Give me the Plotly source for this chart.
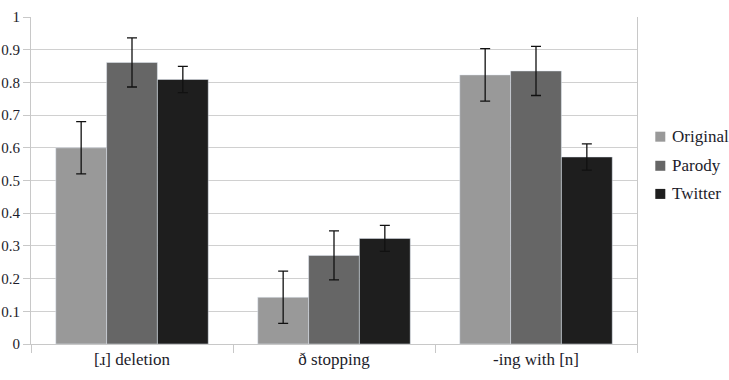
import plotly.graph_objects as go

categories = ["[ɹ] deletion", "ð stopping", "-ing with [n]"]
series_names = ["Original", "Parody", "Twitter"]
original = [0.60, 0.143, 0.823]
parody = [0.861, 0.271, 0.835]
twitter = [0.809, 0.323, 0.572]
original_err = [0.08, 0.08, 0.08]
parody_err = [0.075, 0.075, 0.075]
twitter_err = [0.04, 0.04, 0.04]
colors = ["#999999", "#666666", "#1e1e1e"]

values = [original, parody, twitter]
errors = [original_err, parody_err, twitter_err]

font_family = "Liberation Serif"

fig = go.Figure()
for name, vals, errs, col in zip(series_names, values, errors, colors):
    fig.add_trace(go.Bar(
        name=name, x=categories, y=vals,
        marker=dict(color=col),
        error_y=dict(type="data", array=errs, visible=True, color="#111111", thickness=1.3, width=5),
        showlegend=False,
    ))

# manual legend (square swatch + label), positioned in paper coordinates
legend_y = [0.634, 0.545, 0.459]
for name, col, yc in zip(series_names, colors, legend_y):
    fig.add_shape(type="rect", xref="paper", yref="paper",
                  x0=1.0302, x1=1.0467, y0=yc - 0.0153, y1=yc + 0.0153,
                  fillcolor=col, line=dict(width=0))
    fig.add_annotation(xref="paper", yref="paper", x=1.0545, y=yc,
                       text=name, showarrow=False, xanchor="left", yanchor="middle",
                       font=dict(family=font_family, size=17, color="#1c1c2a"))

fig.update_layout(
    width=729, height=380,
    margin=dict(l=31, r=92, t=17, b=36, autoexpand=False),
    barmode="group", bargap=0.245, bargroupgap=0,
    font=dict(family=font_family, size=15),
    showlegend=False,
    plot_bgcolor="white", paper_bgcolor="white",
)
fig.update_xaxes(
    showline=True, linecolor="#c8c8c8", linewidth=1,
    ticks="outside", tickson="boundaries", ticklen=8, tickcolor="#c8c8c8",
    tickfont=dict(family=font_family, size=17, color="#1c1c2a"), showgrid=False, automargin=False,
)
fig.update_yaxes(
    range=[0, 1], dtick=0.1, showgrid=True, gridcolor="#d0d0d0", gridwidth=1,
    showline=True, linecolor="#c8c8c8", linewidth=1, mirror=True,
    ticks="outside", ticklen=7, tickcolor="#c8c8c8",
    tickfont=dict(family=font_family, size=15, color="#1c1c2a"), zeroline=False, automargin=False,
)
fig.write_html("out.html")
